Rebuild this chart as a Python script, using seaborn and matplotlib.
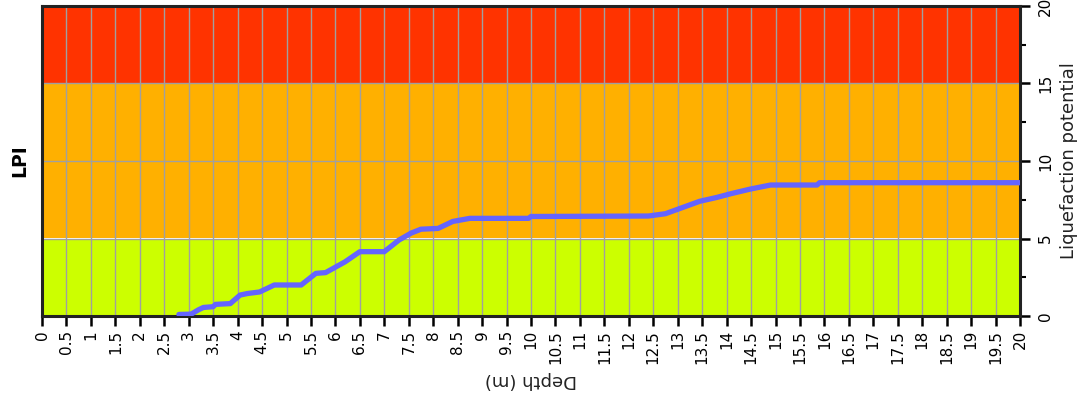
import numpy as np
import pandas as pd
import seaborn as sns
import matplotlib.pyplot as plt

# LPI profile (depth in m, cumulative LPI)
depth = [2.8, 3.05, 3.2, 3.3, 3.5, 3.55, 3.85, 4.05, 4.2, 4.45, 4.75, 5.3,
         5.6, 5.8, 6.2, 6.5, 7.0, 7.3, 7.55, 7.75, 8.1, 8.4, 8.75, 9.95,
         10.0, 12.4, 12.75, 13.1, 13.45, 13.8, 14.1, 14.5, 14.9, 15.85,
         15.9, 20.0]
lpi = [0.1, 0.12, 0.4, 0.55, 0.6, 0.75, 0.8, 1.35, 1.45, 1.55, 2.0, 2.0,
       2.75, 2.8, 3.5, 4.15, 4.15, 4.9, 5.35, 5.6, 5.65, 6.1, 6.3, 6.3,
       6.42, 6.45, 6.6, 7.0, 7.4, 7.65, 7.9, 8.2, 8.45, 8.45, 8.6, 8.6]

# risk bands (lower, upper, colour)
band_low = [0, 5, 15]
band_high = [5, 15, 20]
band_colors = ["#ccff00", "#ffb000", "#ff3300"]

depth_ticks = np.arange(0, 20.01, 0.5)
depth_labels = [f"{t:g}" for t in depth_ticks]
lpi_ticks = [0, 5, 10, 15, 20]
lpi_labels = ["0", "5", "10", "15", "20"]

df = pd.DataFrame({"depth": depth, "lpi": lpi})

sns.set_style("white")
plt.rcParams["font.family"] = ["DejaVu Sans"]
plt.rcParams["text.color"] = "black"
plt.rcParams["axes.labelcolor"] = "#222222"

fig = plt.figure(figsize=(10.81, 4.03), dpi=100)
ax = fig.add_axes([42 / 1081, 1 - 316 / 403, 978 / 1081, 310 / 403])

for lo, hi, c in zip(band_low, band_high, band_colors):
    ax.axhspan(lo, hi, color=c, zorder=0, lw=0)

sns.lineplot(data=df, x="depth", y="lpi", ax=ax, color="#6464ff",
             linewidth=3.8, zorder=3, estimator=None, sort=False)

ax.set_xlim(0, 20)
ax.set_ylim(0, 20)
ax.set_xticks(depth_ticks)
ax.set_xticklabels(depth_labels, rotation=90, fontsize=11)
ax.set_yticks(lpi_ticks)
ax.set_yticks([2.5, 7.5, 12.5, 17.5], minor=True)
ax.set_yticklabels(lpi_labels, rotation=90, va="center", fontsize=11)

ax.yaxis.tick_right()
ax.yaxis.set_label_position("right")
ax.tick_params(axis="both", which="major", direction="out", length=7,
               width=1.8, color="black", labelcolor="black", pad=3)
ax.tick_params(axis="y", which="major", pad=6)
ax.tick_params(axis="y", which="minor", direction="out", length=4,
               width=1.5, color="black", right=True, left=False)
ax.tick_params(axis="x", bottom=True)
ax.tick_params(axis="y", right=True, left=False)

ax.set_axisbelow("line")
ax.grid(True, which="major", color="#a0a0a0", linewidth=1.0)

for s in ax.spines.values():
    s.set_color("#222222")
    s.set_linewidth(2.2)

ax.set_xlabel("Depth (m)", rotation=180, fontsize=13)
ax.xaxis.set_label_coords(0.5, -0.178)
ax.set_ylabel("Liquefaction potential", fontsize=13)
ax.yaxis.set_label_coords(1.041, 0.5)

fig.text(20 / 1081, 1 - 161 / 403, "LPI", rotation=90, fontsize=13.5,
         fontweight="bold", ha="center", va="center")

fig.savefig("out.png", dpi=100)
